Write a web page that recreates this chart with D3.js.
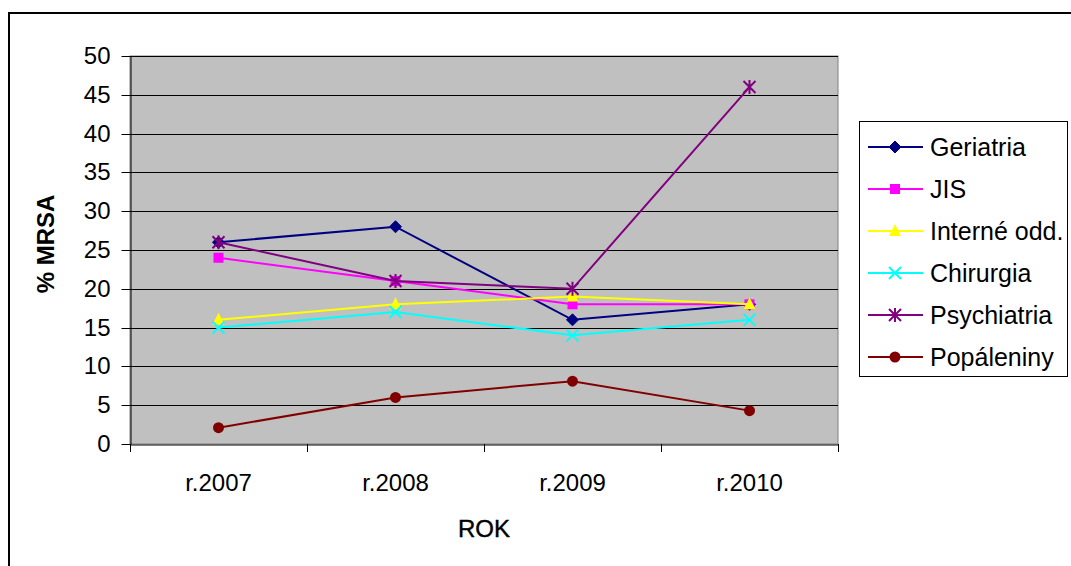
<!DOCTYPE html>
<html><head><meta charset="utf-8">
<script src="https://cdn.jsdelivr.net/npm/d3@7"></script>
<style>body{margin:0;background:#fff}svg{display:block}text{font-family:"Liberation Sans",Arial,sans-serif}</style>
</head><body><svg id="c" width="1071" height="566"></svg>
<script>
const categories = ["r.2007","r.2008","r.2009","r.2010"];
const seriesNames = ["Geriatria","JIS","Interné odd.","Chirurgia","Psychiatria","Popáleniny"];
const geriatria = [26, 28, 16, 18];
const jis = [24, 21, 18, 18];
const interne = [16, 18, 19, 18];
const chirurgia = [15, 17, 14, 16];
const psychiatria = [26, 21, 20, 46];
const popaleniny = [2.1, 6, 8.1, 4.3];
const yTicks = [0,5,10,15,20,25,30,35,40,45,50];
const yLabel = "% MRSA";
const xLabel = "ROK";

const values = [geriatria, jis, interne, chirurgia, psychiatria, popaleniny];
const colors = ["#000080","#FF00FF","#FFFF00","#00FFFF","#800080","#800000"];
const markers = ["diamond","square","triangle","x","star","circle"];

const svg = d3.select("#c");
const L = 130, R = 838, T = 56, B = 444;
const FF = "Liberation Sans, Arial, sans-serif";

// outer frame
svg.append("rect").attr("x",9).attr("y",13).attr("width",1080).attr("height",600)
  .attr("fill","#fff").attr("stroke","#000").attr("stroke-width",2);

const x = d3.scaleBand().domain(categories).range([L,R]);
const y = d3.scaleLinear().domain([0,50]).range([B,T]);

svg.append("rect").attr("x",L).attr("y",T).attr("width",R-L).attr("height",B-T)
  .attr("fill","#C0C0C0").attr("stroke","#808080").attr("stroke-width",1);

// gridlines
svg.append("g").selectAll("line").data(yTicks.filter(d=>d>0)).join("line")
  .attr("x1",L).attr("x2",R).attr("y1",d=>Math.round(y(d))+0.5).attr("y2",d=>Math.round(y(d))+0.5)
  .attr("stroke","#000").attr("stroke-width",1);

// y axis
const ya = svg.append("g").attr("transform",`translate(${L+0.5},0)`)
  .call(d3.axisLeft(y).tickValues(yTicks).tickSize(9).tickPadding(11).tickSizeOuter(0));
ya.select(".domain").attr("stroke","#000");
ya.selectAll(".tick line").attr("stroke","#000");
ya.selectAll("text").attr("font-size","24px").attr("fill","#000").attr("font-family",FF);
ya.selectAll(".tick").attr("transform",d=>`translate(0,${Math.round(y(d))+0.5})`);

// x axis
const xa = svg.append("g").attr("transform",`translate(0,${B+0.5})`)
  .call(d3.axisBottom(x).tickSize(0).tickPadding(29));
xa.select(".domain").attr("stroke","#000");
xa.selectAll("text").attr("font-size","24px").attr("fill","#000").attr("font-family",FF);
const bounds = categories.map(c=>x(c)).concat([R]);
svg.append("g").selectAll("line").data(bounds).join("line")
  .attr("x1",d=>Math.round(d)+0.5).attr("x2",d=>Math.round(d)+0.5).attr("y1",B).attr("y2",B+8)
  .attr("stroke","#000");

// axis titles
svg.append("text").attr("x",484).attr("y",537).attr("text-anchor","middle")
  .attr("font-size","24px").attr("stroke","#000").attr("stroke-width",0.4).text(xLabel);
svg.append("text").attr("transform","translate(54,244) rotate(-90)").attr("text-anchor","middle")
  .attr("font-size","24px").attr("font-weight","bold").text(yLabel);

function drawMarker(g, type, color, cx, cy){
  if(type==="diamond"){
    g.append("path").attr("d",`M${cx},${cy-6}L${cx+6},${cy}L${cx},${cy+6}L${cx-6},${cy}Z`).attr("fill",color).attr("stroke",color);
  } else if(type==="square"){
    g.append("rect").attr("x",cx-5).attr("y",cy-5).attr("width",10).attr("height",10).attr("fill",color);
  } else if(type==="triangle"){
    g.append("path").attr("d",`M${cx},${cy-7}L${cx+6},${cy+5}L${cx-6},${cy+5}Z`).attr("fill",color);
  } else if(type==="x"){
    g.append("path").attr("d",`M${cx-6},${cy-6}L${cx+6},${cy+6}M${cx+6},${cy-6}L${cx-6},${cy+6}`).attr("stroke",color).attr("stroke-width",2);
  } else if(type==="star"){
    g.append("path").attr("d",`M${cx-6},${cy-6}L${cx+6},${cy+6}M${cx+6},${cy-6}L${cx-6},${cy+6}M${cx},${cy-7}L${cx},${cy+7}`).attr("stroke",color).attr("stroke-width",2);
  } else {
    g.append("circle").attr("cx",cx).attr("cy",cy).attr("r",5.5).attr("fill",color);
  }
}

const line = d3.line().x((d,i)=>x(categories[i])+x.bandwidth()/2).y(d=>y(d));
values.forEach((vals,si)=>{
  const g = svg.append("g");
  g.append("path").attr("d",line(vals)).attr("fill","none").attr("stroke",colors[si]).attr("stroke-width",2);
  vals.forEach((v,i)=>drawMarker(g, markers[si], colors[si], x(categories[i])+x.bandwidth()/2, y(v)));
});

// legend
const lg = svg.append("g");
lg.append("rect").attr("x",859.5).attr("y",121.5).attr("width",208).attr("height",255)
  .attr("fill","#fff").attr("stroke","#000").attr("stroke-width",1);
seriesNames.forEach((n,i)=>{
  const cy = 147 + i*42;
  lg.append("line").attr("x1",868).attr("x2",923).attr("y1",cy).attr("y2",cy).attr("stroke",colors[i]).attr("stroke-width",2);
  drawMarker(lg, markers[i], colors[i], 895, cy);
  lg.append("text").attr("x",930).attr("y",cy+9).attr("font-size","25px").attr("font-family",FF).text(n);
});
</script></body></html>
